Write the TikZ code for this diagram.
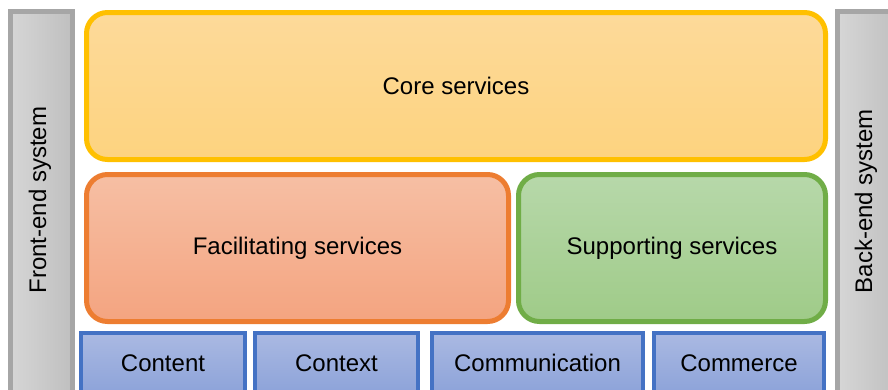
\documentclass[tikz,border=0pt]{standalone}
\usepackage{fontspec}
\setmainfont{Liberation Sans}
\usepackage{xcolor}
\usepackage{tikz}
\usetikzlibrary{positioning}

\begin{document}
\begin{tikzpicture}[
  x=1pt, y=-1pt,
  font=\fontsize{24}{28}\selectfont,
  layer/.style={
    draw=#1,
    top color=#1top,
    bottom color=#1bot,
    line width=5pt,
    rounded corners=21pt,
    align=center,
    inner sep=0pt,
    outer sep=0pt,
    minimum height=147pt
  },
  channel/.style={
    draw=cblue,
    top color=cbluetop,
    bottom color=cbluebot,
    line width=4pt,
    inner sep=0pt,
    outer sep=0pt,
    minimum height=60pt
  },
  sidebar/.style={
    draw=sidegray,
    left color=sidegraytop,
    right color=sidegraybot,
    line width=5pt,
    inner sep=0pt,
    outer sep=0pt,
    minimum width=62pt,
    minimum height=400pt
  }
]
\definecolor{coreyellow}{HTML}{FFC000}
\definecolor{coreyellowtop}{HTML}{FDDA9A}
\definecolor{coreyellowbot}{HTML}{FDD37F}
\definecolor{faciorange}{HTML}{ED7D31}
\definecolor{faciorangetop}{HTML}{F6BFA4}
\definecolor{faciorangebot}{HTML}{F4A480}
\definecolor{suppgreen}{HTML}{70AD47}
\definecolor{suppgreentop}{HTML}{B7D8AA}
\definecolor{suppgreenbot}{HTML}{9FCB88}
\definecolor{cblue}{HTML}{4472C4}
\definecolor{cbluetop}{HTML}{AAB9E2}
\definecolor{cbluebot}{HTML}{8DA3D9}
\definecolor{sidegray}{HTML}{A6A6A6}
\definecolor{sidegraytop}{HTML}{D6D6D6}
\definecolor{sidegraybot}{HTML}{BFBFBF}

\useasboundingbox (0,0) rectangle (888,389);
\clip (0,0) rectangle (888,389);

% side systems
\node[sidebar] (front) at (41.5,211.5) {};
\node[rotate=90] (frontlbl) at (40,200) {Front-end system};
\node[sidebar] (back) at (868.5,211.5) {};
\node[rotate=90] (backlbl) at (866,201) {Back-end system};

% service layers
\node[layer=coreyellow, minimum width=739pt] (core) at (456,86) {Core services};
\node[layer=faciorange, minimum width=422pt] (faci) at (297.5,248) {Facilitating services};
\node[layer=suppgreen, minimum width=307pt] (supp) at (672,248) {Supporting services};

% the four C's
\node[channel, minimum width=164pt] (content) at (163,363) {Content};
\node[channel, minimum width=163pt] (context) at (336.5,363) {Context};
\node[channel, minimum width=211pt] (comm) at (537.5,363) {Communication};
\node[channel, minimum width=170pt] (commerce) at (739,363) {Commerce};
\end{tikzpicture}
\end{document}
